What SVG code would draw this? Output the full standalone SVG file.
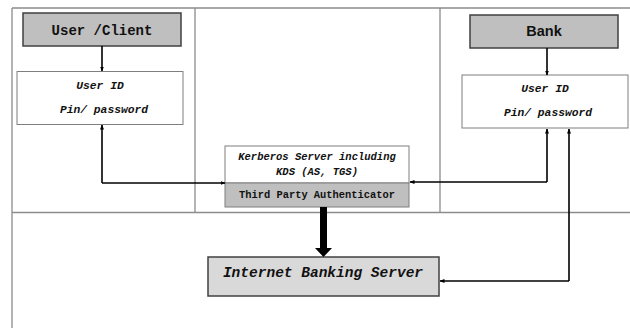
<svg xmlns="http://www.w3.org/2000/svg" width="630" height="328" viewBox="0 0 630 328">
<style>
.frame{stroke:#8c8c8c;stroke-width:1.3;fill:none}
.box{fill:#ffffff;stroke:#7f7f7f;stroke-width:1}
.hdr{fill:#bfbfbf;stroke:#404040;stroke-width:1.5}
.mono{font-family:"Liberation Mono","DejaVu Sans Mono",monospace;font-weight:bold;fill:#111}
.it{font-style:italic}
.c{stroke:#000;stroke-width:1.6;fill:none}
</style>
<defs>
<marker id="ah" viewBox="0 0 10 10" refX="9" refY="5" markerWidth="5" markerHeight="5" orient="auto" markerUnits="userSpaceOnUse">
<path d="M0,1 L10,5 L0,9 z" fill="#000"/>
</marker>
</defs>
<g id="frame">
<path class="frame" d="M12,8 H630 M12,8 V328 M12,212.5 H630 M195,8 V212.5 M440,8 V212.5"/>
</g>
<g id="user-client">
<rect class="hdr" x="23" y="13" width="158" height="33"/>
<text class="mono" x="102" y="34.5" font-size="14" text-anchor="middle">User /Client</text>
</g>
<g id="user-id-left">
<rect class="box" x="17" y="71.5" width="166" height="53"/>
<text class="mono it" x="100" y="89" font-size="11.3" text-anchor="middle">User ID</text>
<text class="mono it" x="104" y="113" font-size="11.3" text-anchor="middle">Pin/ password</text>
</g>
<g id="bank">
<rect class="hdr" x="470" y="15" width="148" height="33"/>
<text x="544" y="36" font-family="'Liberation Sans',Arial,sans-serif" font-weight="bold" font-size="14.5" fill="#111" text-anchor="middle">Bank</text>
</g>
<g id="user-id-right">
<rect class="box" x="462" y="75" width="166" height="53"/>
<text class="mono it" x="545" y="92" font-size="11.3" text-anchor="middle">User ID</text>
<text class="mono it" x="548" y="116" font-size="11.3" text-anchor="middle">Pin/ password</text>
</g>
<g id="kerberos">
<rect class="box" x="225" y="146" width="184" height="37"/>
<text class="mono it" x="317" y="160" font-size="10.5" text-anchor="middle">Kerberos Server including</text>
<text class="mono it" x="317" y="175" font-size="10.5" text-anchor="middle">KDS (AS, TGS)</text>
</g>
<g id="third-party">
<rect x="225" y="183" width="184" height="24" fill="#bfbfbf" stroke="#7f7f7f" stroke-width="1"/>
<text class="mono" x="317" y="198" font-size="10.4" text-anchor="middle">Third Party Authenticator</text>
</g>
<g id="internet-banking">
<rect x="208" y="257" width="231" height="39" fill="#d9d9d9" stroke="#404040" stroke-width="1.5"/>
<text class="mono it" x="323" y="277" font-size="14.5" text-anchor="middle">Internet Banking Server</text>
</g>
<g id="connectors">
<line class="c" x1="102" y1="46" x2="102" y2="71" marker-end="url(#ah)"/>
<line class="c" x1="547" y1="48" x2="547" y2="75" marker-end="url(#ah)"/>
<path class="c" d="M102,183 V125" marker-end="url(#ah)"/>
<path class="c" d="M102,183 H225" marker-end="url(#ah)"/>
<path class="c" d="M547,182 V129" marker-end="url(#ah)"/>
<path class="c" d="M547,182 H410" marker-end="url(#ah)"/>
<path class="c" d="M569,281 V129" marker-end="url(#ah)"/>
<path class="c" d="M569,281 H440" marker-end="url(#ah)"/>
<path d="M320,207 H327 V248 H332 L323.5,257 L315,248 H320 Z" fill="#000"/>
</g>
</svg>
